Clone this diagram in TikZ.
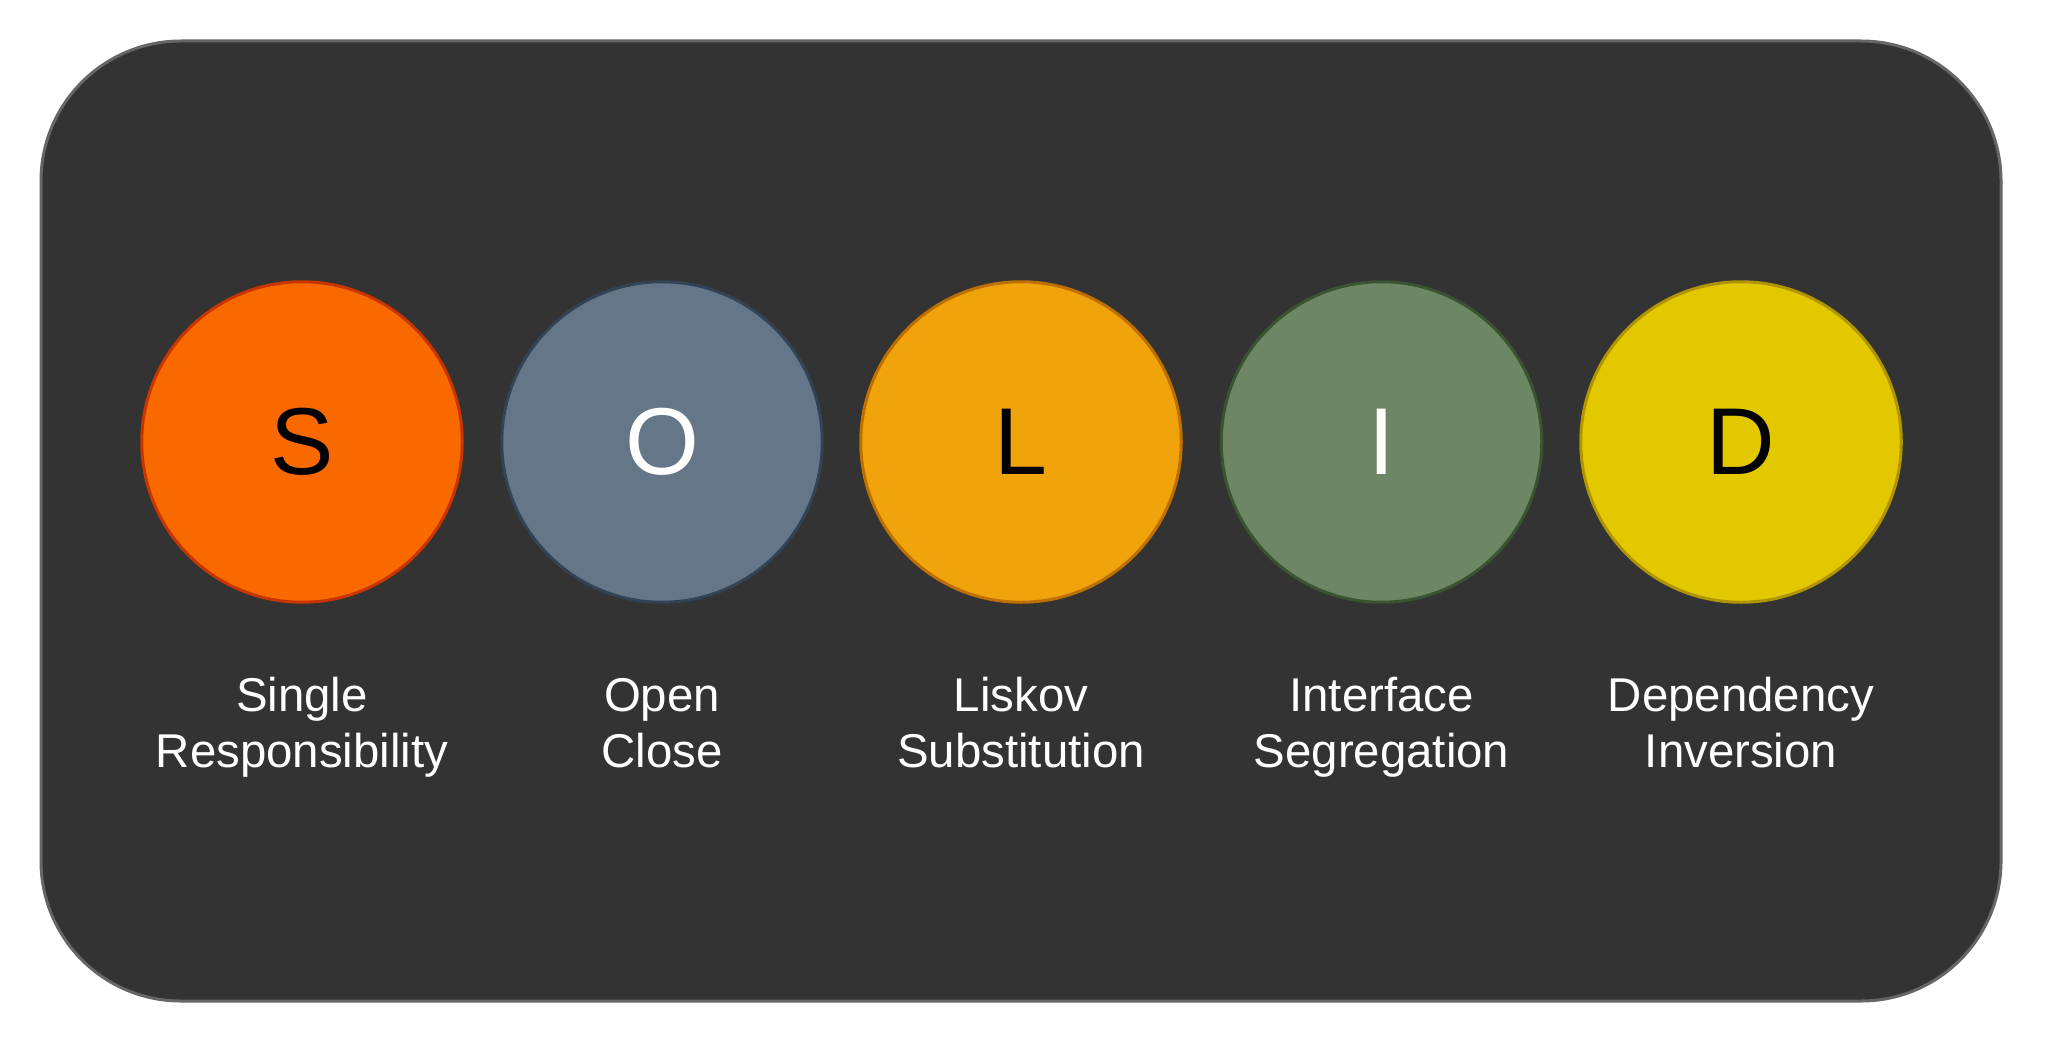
\documentclass[tikz,border=0pt]{standalone}
\usepackage{fontspec}
\setmainfont{Liberation Sans}
\definecolor{bgfill}{HTML}{333333}
\definecolor{bgline}{HTML}{666666}
\definecolor{sfill}{HTML}{FA6800}\definecolor{sline}{HTML}{C73500}
\definecolor{ofill}{HTML}{647687}\definecolor{oline}{HTML}{314354}
\definecolor{lfill}{HTML}{F0A30A}\definecolor{lline}{HTML}{BD7000}
\definecolor{ifill}{HTML}{6D8764}\definecolor{iline}{HTML}{3A5431}
\definecolor{dfill}{HTML}{E3C800}\definecolor{dline}{HTML}{B09500}
\tikzset{
  letterdisc/.style={circle, minimum size=320.5pt*0.5, inner sep=0pt, line width=1.5pt,
    font=\fontsize{47.5}{56}\selectfont},
  caption/.style={text=white, align=center, inner sep=0pt,
    font=\fontsize{23.7}{28}\selectfont},
}
\begin{document}
\begin{tikzpicture}[x=0.5pt, y=-0.5pt]
\useasboundingbox (0,0) rectangle (2048,1048);
\draw[fill=bgfill, draw=bgline, line width=1.5pt, rounded corners=70pt] (41,41) rectangle (2001,1001);
\node[letterdisc, fill=sfill, draw=sline, text=black] (s) at (302,442) {S};
\node[letterdisc, fill=ofill, draw=oline, text=white] (o) at (662,442) {O};
\node[letterdisc, fill=lfill, draw=lline, text=black] (l) at (1021,442) {L};
\node[letterdisc, fill=ifill, draw=iline, text=white] (i) at (1381.5,442) {I};
\node[letterdisc, fill=dfill, draw=dline, text=black] (d) at (1741,442) {D};
\node[caption] (ts) at (302,728) {\strut Single\\\strut Responsibility};
\node[caption] (to) at (662,728) {\strut Open\\\strut Close};
\node[caption] (tl) at (1021,728) {\strut Liskov\\\strut Substitution};
\node[caption] (ti) at (1381.5,728) {\strut Interface\\\strut Segregation};
\node[caption] (td) at (1741,728) {\strut Dependency\\\strut Inversion};
\end{tikzpicture}
\end{document}
